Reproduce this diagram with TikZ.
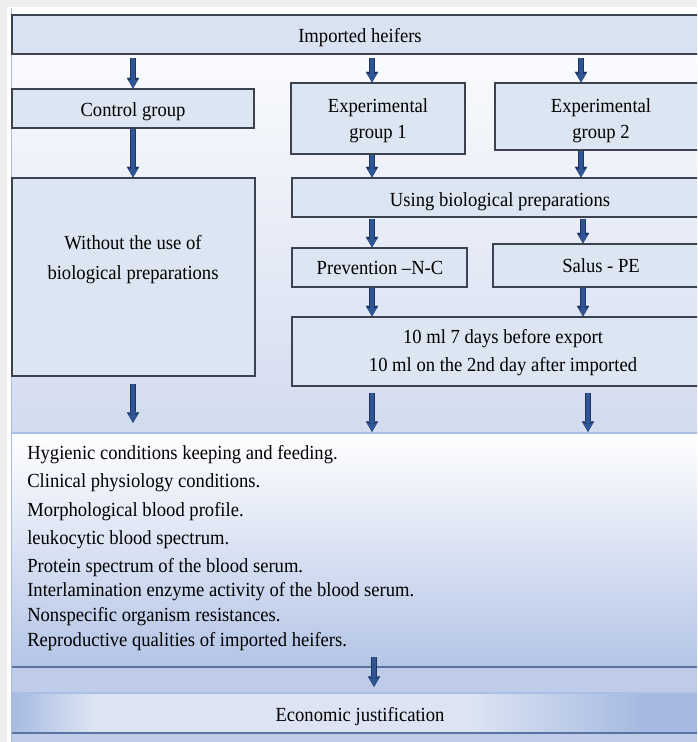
\documentclass[tikz,border=0pt]{standalone}
\usepackage{fontspec}
\setmainfont{Liberation Serif}[FakeStretch=0.93]
\usetikzlibrary{arrows.meta,fit}
\definecolor{outergray}{HTML}{EEEEEE}
\definecolor{upperbot}{HTML}{D2DBEF}
\definecolor{listbot}{HTML}{B3C4E6}
\definecolor{bandblue}{HTML}{BECCEA}
\definecolor{econmid}{HTML}{DCE4F3}
\definecolor{econedge}{HTML}{A6BAE1}
\definecolor{econline}{HTML}{5A74A2}
\definecolor{paleline}{HTML}{A9BFE6}
\definecolor{boxfill}{HTML}{DCE6F2}
\definecolor{topfill}{HTML}{D9E2F1}
\definecolor{boxline}{HTML}{3C4250}
\definecolor{arrblue}{HTML}{2F5597}
\definecolor{arrdark}{HTML}{1C3561}
\tikzset{
  box/.style={draw=boxline, line width=1pt, fill=boxfill, inner sep=0pt},
  topbox/.style={box, fill=topfill},
  txt/.style={inner sep=0pt, anchor=base, align=center, font=\fontsize{15pt}{#1}\selectfont},
  txt/.default=21pt,
  listline/.style={inner sep=0pt, font=\fontsize{15pt}{18pt}\selectfont, anchor=base west},
  barrow/.style={
    preaction={draw=arrdark, line width=4.6pt, -{Triangle[length=7.8pt,width=9.2pt,line width=0.01pt]}},
    draw=arrblue, line width=2.8pt, -{Triangle[length=6.2pt,width=6.6pt,line width=0.01pt]}}
}
\begin{document}
\begin{tikzpicture}[x=0.75pt,y=-0.75pt]
\useasboundingbox (0,0) rectangle (697,742);
\clip (0,0) rectangle (697,742);
% background
\fill[outergray] (0,0) rectangle (697,742);
\fill[white] (7,7) rectangle (697,742);
\shade[top color=white, bottom color=upperbot] (12,8) rectangle (697,433);
\shade[top color=white, bottom color=listbot] (12,433) rectangle (697,667);
\fill[bandblue] (12,667) rectangle (697,693);
\fill[econmid] (12,693) rectangle (697,733);
\shade[left color=econedge, right color=econmid] (12,693) rectangle (95,733);
\shade[left color=econmid, right color=econedge] (470,693) rectangle (640,733);
\fill[econedge] (640,693) rectangle (697,733);
\fill[bandblue] (12,733) rectangle (697,742);
\draw[paleline, line width=1.2pt] (12,433) -- (697,433);
\draw[paleline, line width=1.2pt] (12,693) -- (697,693);
\draw[econline, line width=1.6pt] (12,667) -- (697,667);
\draw[econline, line width=1.6pt] (12,733) -- (697,733);
\draw[paleline, line width=1pt] (11.5,8) -- (11.5,742);

% boxes
\node[topbox, fit={(12,15) (708,54)}] (top) {};
\node[box, fit={(12,89) (254,128)}] (ctrl) {};
\node[box, fit={(291,83) (465,154)}] (exp1) {};
\node[box, fit={(495,83) (708,150)}] (exp2) {};
\node[box, fit={(12,178) (255,376)}] (without) {};
\node[box, fit={(292,178) (708,217)}] (using) {};
\node[box, fit={(292,248) (467,287)}] (prev) {};
\node[box, fit={(493,244) (708,287)}] (salus) {};
\node[box, fit={(292,317) (708,386)}] (dose) {};
\node[inner sep=0pt, fit={(12,433) (708,667)}] (list) {};
\node[inner sep=0pt, fit={(12,693) (708,733)}] (econ) {};

% texts (base anchor = baseline of the last line)
\node[txt] (toptxt) at (360,43) {Imported heifers};
\node[txt] (ctrltxt) at (133,117) {Control group};
\node[txt=19.5pt] (exp1txt) at (378,138) {Experimental\\group 1};
\node[txt=19.5pt] (exp2txt) at (601,138) {Experimental\\group 2};
\node[txt=22.5pt] (withouttxt) at (133,279) {Without the use of\\biological preparations};
\node[txt] (usingtxt) at (500,206) {Using biological preparations};
\node[txt] (prevtxt) at (380,274) {Prevention \textendash N-C};
\node[txt] (salustxt) at (601,272) {Salus - PE};
\node[txt=21pt] (dosetxt) at (503,371) {10 ml 7 days before export\\10 ml on the 2nd day after imported};
\node[txt] (econtxt) at (360,721) {Economic justification};

\node[listline] (l1) at (27,459) {Hygienic conditions keeping and feeding.};
\node[listline] (l2) at (27,487.5) {Clinical physiology conditions.};
\node[listline] (l3) at (27,516) {Morphological blood profile.};
\node[listline] (l4) at (27,544) {leukocytic blood spectrum.};
\node[listline] (l5) at (27,572.5) {Protein spectrum of the blood serum.};
\node[listline] (l6) at (27,596.5) {Interlamination enzyme activity of the blood serum.};
\node[listline] (l7) at (27,621.5) {Nonspecific organism resistances.};
\node[listline] (l8) at (27,646.5) {Reproductive qualities of imported heifers.};

% arrow columns
\coordinate (c1) at (133,0);
\coordinate (c2) at (372,0);
\coordinate (c3) at (581,0);
\coordinate (c4) at (583,0);
\coordinate (c5) at (588,0);
\coordinate (c6) at (374,0);

% arrows
\draw[barrow, shorten <=2.25pt] (top.south -| c1) -- (ctrl.north -| c1);
\draw[barrow, shorten <=2.25pt] (top.south -| c2) -- (exp1.north -| c2);
\draw[barrow, shorten <=2.25pt] (top.south -| c3) -- (exp2.north -| c3);
\draw[barrow] (ctrl.south -| c1) -- (without.north -| c1);
\draw[barrow] (exp1.south -| c2) -- (using.north -| c2);
\draw[barrow] (exp2.south -| c3) -- (using.north -| c3);
\draw[barrow, shorten <=0.75pt] (using.south -| c2) -- (prev.north -| c2);
\draw[barrow, shorten <=0.75pt] (using.south -| c4) -- (salus.north -| c4);
\draw[barrow] (prev.south -| c2) -- (dose.north -| c2);
\draw[barrow] (salus.south -| c4) -- (dose.north -| c4);
\draw[barrow, shorten <=5.25pt, shorten >=7.5pt] (without.south -| c1) -- (list.north -| c1);
\draw[barrow, shorten <=4.5pt, shorten >=0.75pt] (dose.south -| c2) -- (list.north -| c2);
\draw[barrow, shorten <=4.5pt, shorten >=0.75pt] (dose.south -| c5) -- (list.north -| c5);
\draw[barrow, shorten <=-7.5pt, shorten >=4.5pt] (list.south -| c6) -- (econ.north -| c6);
\end{tikzpicture}
\end{document}
